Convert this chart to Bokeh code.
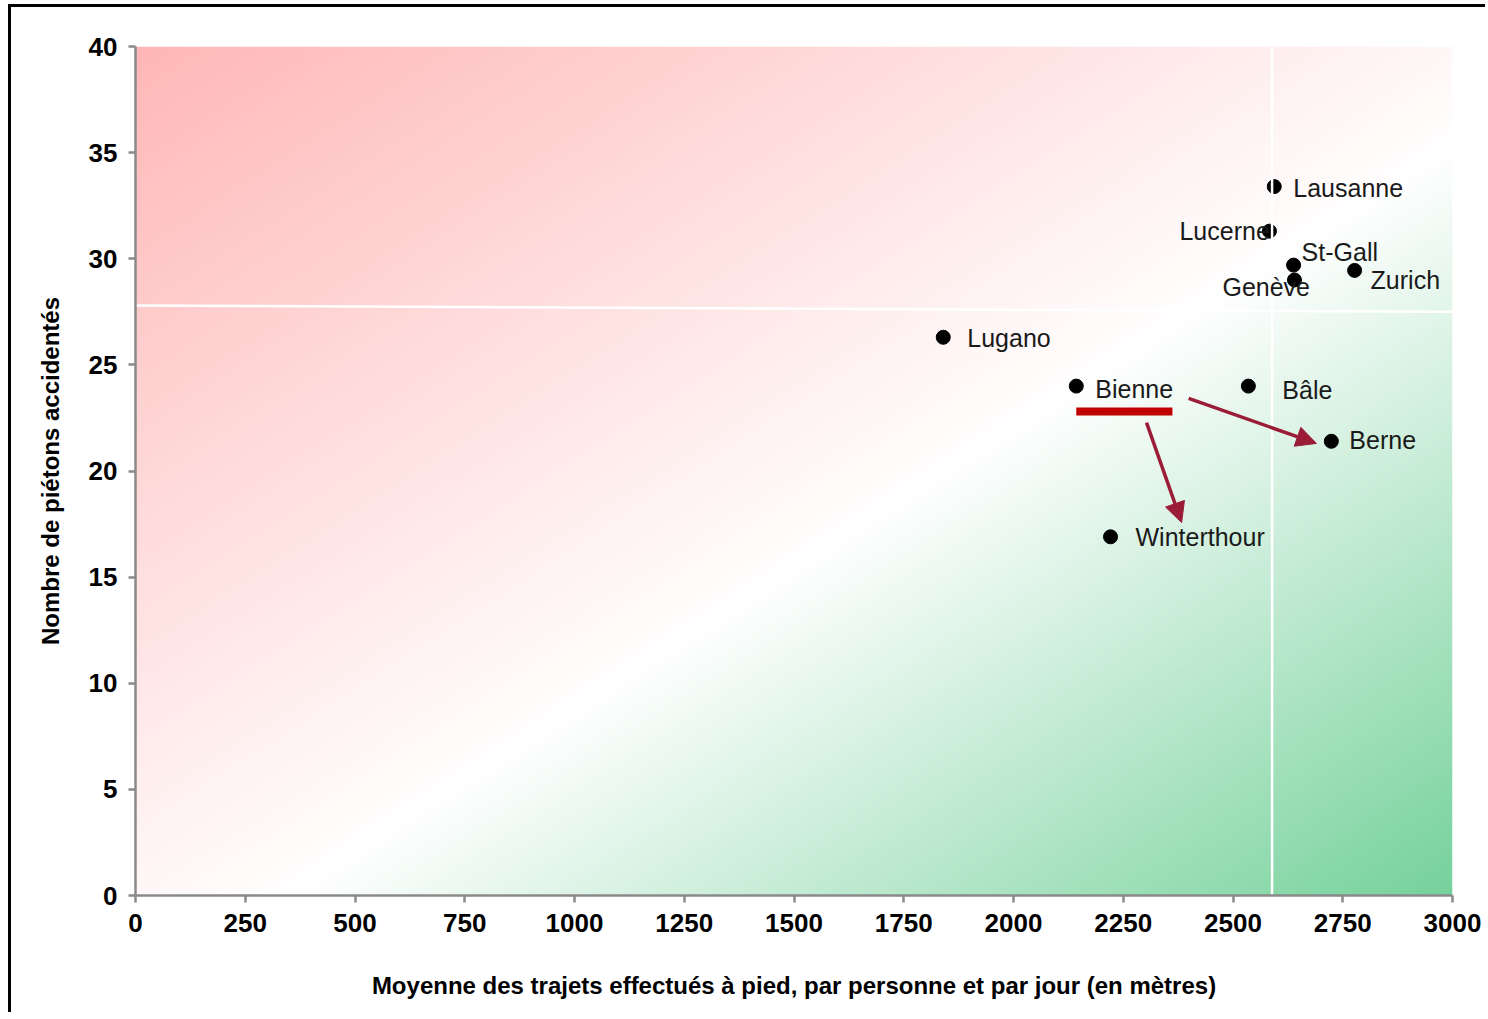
import numpy as np
from bokeh.plotting import figure
from bokeh.models import Range1d, FixedTicker, Arrow, NormalHead, ColumnDataSource
from bokeh.core.properties import value
from bokeh.embed import file_html
from bokeh.resources import INLINE

# ---- data ----
cities = ["Lausanne", "Lucerne", "St-Gall", "Genève", "Zurich",
          "Lugano", "Bienne", "Bâle", "Berne", "Winterthour"]
distance = [2594, 2583, 2638, 2640, 2777, 1840, 2143, 2535, 2724, 2221]
accidents = [33.4, 31.3, 29.7, 29.0, 29.45, 26.3, 24.0, 24.0, 21.4, 16.9]

x_ticks = [0, 250, 500, 750, 1000, 1250, 1500, 1750, 2000, 2250, 2500, 2750, 3000]
y_ticks = [0, 5, 10, 15, 20, 25, 30, 35, 40]

# reference (average) lines
avg_accidents_start = 27.8
avg_accidents_end = 27.5
avg_distance = 2589

# Bienne underline and arrows
underline_x = [2143, 2362]
underline_y = [22.8, 22.8]
arrow_starts = [(2399, 23.42), (2303, 22.28)]
arrow_ends = [(2690, 21.3), (2383, 17.57)]

# label offsets (screen px)
label_dx = [19, -90, 8, -72, 16, 24, 19, 34, 18, 25]
label_dy = [1, 0, -13, 7, 10, 1, 3, 4, -1, 0]

FONT = "Liberation Sans"

p = figure(width=1477, height=1008, output_backend="svg", toolbar_location=None,
           x_range=Range1d(0, 3000), y_range=Range1d(0, 40),
           min_border_left=124, min_border_right=36, min_border_top=39, min_border_bottom=120)
p.styles = {"border-top": "3px solid black", "border-left": "3px solid black",
            "margin-left": "8px", "margin-top": "4px"}
p.outline_line_color = None
p.xgrid.visible = False
p.ygrid.visible = False
p.background_fill_color = "white"
p.border_fill_color = "white"

# gradient background
N, M = 200, 300
img = np.empty((N, M), dtype=np.uint32)
view = img.view(dtype=np.uint8).reshape((N, M, 4))
pink = np.array([255, 183, 183], dtype=float)
white = np.array([255, 255, 255], dtype=float)
green = np.array([118, 210, 156], dtype=float)
t_white = 0.56
for r in range(N):
    v = 1.0 - r / (N - 1)  # 0 at top, 1 at bottom (row 0 is bottom)
    for c in range(M):
        u = c / (M - 1)
        t = (u + v) / 2
        if t <= t_white:
            f = t / t_white
            col = pink + (white - pink) * f
        else:
            f = (t - t_white) / (1 - t_white)
            col = white + (green - white) * f
        view[r, c, 0] = int(col[0])
        view[r, c, 1] = int(col[1])
        view[r, c, 2] = int(col[2])
        view[r, c, 3] = 255
p.image_rgba(image=[img], x=0, y=0, dw=3000, dh=40)

# points
src = ColumnDataSource(dict(x=distance, y=accidents, name=cities, dx=label_dx, dy=label_dy))
p.scatter("x", "y", source=src, size=14, fill_color="black", line_color="black")

# reference lines (drawn over the points, as in the original)
p.segment(x0=[0], y0=[avg_accidents_start], x1=[3000], y1=[avg_accidents_end],
          line_color="white", line_width=2.5)
p.segment(x0=[avg_distance], y0=[0], x1=[avg_distance], y1=[40],
          line_color="white", line_width=2.5)

p.text("x", "y", text="name", source=src, x_offset="dx", y_offset="dy",
       text_font=value(FONT), text_font_size="25px", text_color="#1a1a1a",
       text_baseline="middle", text_align="left")

# underline and arrows
p.line(underline_x, underline_y, line_color="#C00000", line_width=8)
for (xs, ys), (xe, ye) in zip(arrow_starts, arrow_ends):
    p.add_layout(Arrow(end=NormalHead(size=20, fill_color="#9B1C37", line_color="#9B1C37"),
                       x_start=xs, y_start=ys, x_end=xe, y_end=ye,
                       line_color="#9B1C37", line_width=3.5))

# axes
for ax in (p.xaxis[0], p.yaxis[0]):
    ax.axis_line_color = "#8a8a8a"
    ax.axis_line_width = 2.5
    ax.major_tick_line_color = "#8a8a8a"
    ax.major_tick_line_width = 2.5
    ax.major_tick_out = 7
    ax.major_tick_in = 0
    ax.minor_tick_line_color = None
    ax.major_label_text_font = FONT
    ax.major_label_text_font_style = "bold"
    ax.major_label_text_font_size = "26px"
    ax.major_label_text_color = "black"
    ax.major_label_standoff = 11
    ax.axis_label_text_font = FONT
    ax.axis_label_text_font_style = "bold"
    ax.axis_label_text_font_size = "24px"
    ax.axis_label_text_color = "black"

p.xaxis.ticker = FixedTicker(ticks=x_ticks)
p.yaxis.ticker = FixedTicker(ticks=y_ticks)
p.xaxis.axis_label = "Moyenne des trajets effectués à pied, par personne et par jour (en mètres)"
p.yaxis.axis_label = "Nombre de piétons accidentés"
p.xaxis.axis_label_standoff = 37
p.yaxis.axis_label_standoff = 22

open("out.html", "w").write(file_html(p, INLINE))
